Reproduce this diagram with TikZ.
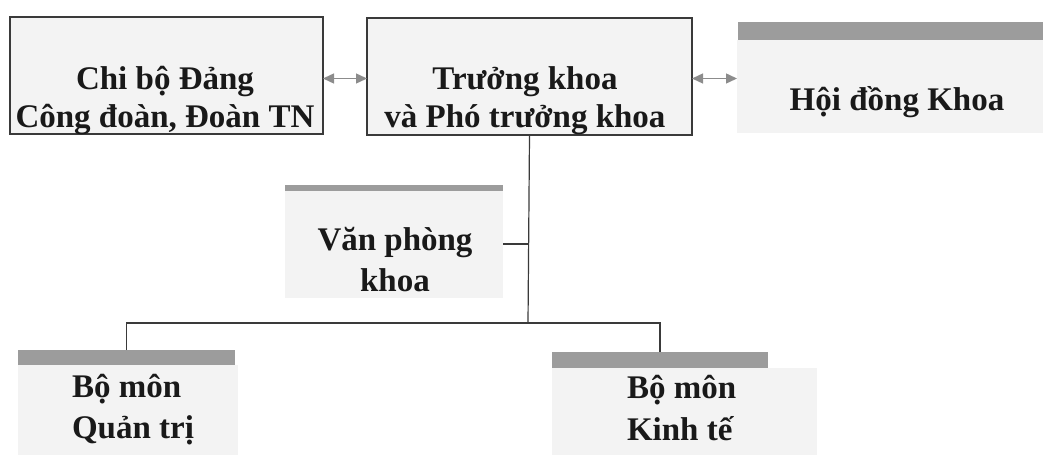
\documentclass[tikz,border=0pt]{standalone}
\usepackage{fontspec}
\setmainfont{Liberation Serif}
\usetikzlibrary{arrows.meta}
\definecolor{boxfill}{HTML}{F3F3F3}
\definecolor{barfill}{HTML}{9C9C9C}
\definecolor{linecol}{HTML}{3A3A3A}
\definecolor{arrowcol}{HTML}{8C8C8C}
\begin{document}
\begin{tikzpicture}[x=1pt, y=-1pt,
		every node/.style={inner sep=0pt, outer sep=0pt},
		box/.style={draw=linecol, line width=1.2pt, fill=boxfill},
		panel/.style={fill=boxfill},
		bar/.style={fill=barfill},
		txt/.style={font=\bfseries\fontsize{33}{38}\selectfont, text=black!90, align=center, anchor=base},
		conn/.style={draw=linecol, line width=1.2pt},
		link/.style={draw=arrowcol, line width=1.4pt, {Triangle[length=11pt,width=10pt]}-{Triangle[length=11pt,width=10pt]}},
	]
	\useasboundingbox (0,0) rectangle (1043,457);

	% top row
	\node [box, minimum width=313pt, minimum height=117pt] (chi) at (166.5,75.5) {};
	\node [txt] (chiT) at (165,128) {Chi bộ Đảng\\Công đoàn, Đoàn TN};
	\node [box, minimum width=325pt, minimum height=117pt] (truong) at (529.5,76.5) {};
	\node [txt] (truongT) at (525,128) {Trưởng khoa\\và Phó trưởng khoa};
	\node [panel, minimum width=306pt, minimum height=93pt] (hd) at (890,86.5) {};
	\node [bar, minimum width=305pt, minimum height=18pt] (hdbar) at (890.5,31) {};
	\node [txt] (hdT) at (897,111) {Hội đồng Khoa};

	% office
	\node [panel, minimum width=218pt, minimum height=108pt] (vp) at (394,244) {};
	\node [bar, minimum width=218pt, minimum height=6pt] (vpbar) at (394,188) {};
	\node [txt, font=\bfseries\fontsize{33}{41}\selectfont] (vpT) at (395,291) {Văn phòng\\khoa};

	% departments
	\node [panel, minimum width=220pt, minimum height=90pt] (qt) at (128,410) {};
	\node [bar, minimum width=217pt, minimum height=15pt] (qtbar) at (126.5,357.5) {};
	\node [txt, align=left, anchor=base west, font=\bfseries\fontsize{33}{41}\selectfont] (qtT) at (72,438) {Bộ môn\\Quản trị};
	\node [panel, minimum width=265pt, minimum height=87pt] (kt) at (684.5,411.5) {};
	\node [bar, minimum width=216pt, minimum height=16pt] (ktbar) at (660,360) {};
	\node [txt, align=left, anchor=base west, font=\bfseries\fontsize{33}{42}\selectfont] (ktT) at (627,440) {Bộ môn\\Kinh tế};

	\coordinate (split) at (528,323);
	\draw [conn] (truong.south) -- (split);
	\draw [conn] (qtbar.north) |- (split) -| (ktbar.north);
	\draw [conn] (vp.east) -- (vp.east -| split);

	\draw [link] ([yshift=-3pt]chi.east) -- ([yshift=-3pt]chi.east -| truong.west);
	\draw [link] ([yshift=-2pt]truong.east) -- ([yshift=-2pt]truong.east -| hd.west);
\end{tikzpicture}
\end{document}
